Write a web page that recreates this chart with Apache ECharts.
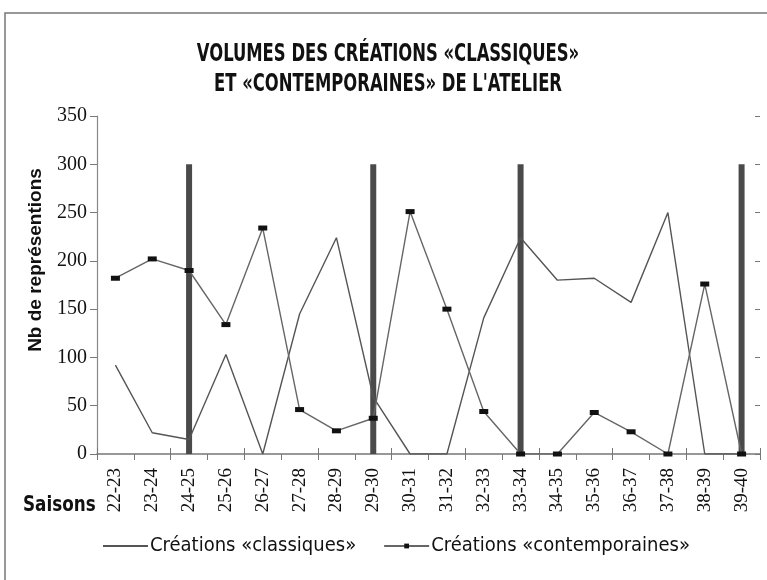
<!DOCTYPE html>
<html>
<head>
<meta charset="utf-8">
<script src="https://cdn.jsdelivr.net/npm/echarts@6/dist/echarts.min.js"></script>
<style>
  html, body { margin: 0; padding: 0; background: #fff; }
  #chart { width: 767px; height: 580px; }
</style>
</head>
<body>
<div id="chart"></div>
<script>
const saisons = ['22-23', '23-24', '24-25', '25-26', '26-27', '27-28', '28-29', '29-30', '30-31',
  '31-32', '32-33', '33-34', '34-35', '35-36', '36-37', '37-38', '38-39', '39-40']
const classiques = [92, 22, 15, 103, 0, 145, 224, 59, 0, 0, 141, 224, 180, 182, 157, 250, 0, 0]
const contemporaines = [182, 202, 190, 134, 234, 46, 24, 37, 251, 150, 44, 0, 0, 43, 23, 0, 176, 0]
// traits verticaux séparant les périodes
const separateurs = [null, null, 300, null, null, null, null, 300, null, null, null, 300, null, null, null, null, null, 300]
const yTicks = [0, 50, 100, 150, 200, 250, 300, 350]

const chart = echarts.init(document.getElementById('chart'))

const serif = '"Liberation Serif", "DejaVu Serif", serif'
const narrow = '"DejaVu Sans Condensed", "DejaVu Sans", sans-serif'

chart.setOption({
  animation: false,
  grid: { left: 97, right: 7, top: 116, bottom: 126 },
  graphic: [
    { type: 'rect', shape: { x: 5, y: 13, width: 820, height: 620 },
      style: { fill: 'none', stroke: '#777', lineWidth: 1.5 }, silent: true },
    { type: 'text', x: 388, y: 52, scaleX: 0.73,
      style: { text: 'VOLUMES DES CRÉATIONS «CLASSIQUES»\nET «CONTEMPORAINES» DE L\'ATELIER',
        font: 'bold 25px ' + narrow, fill: '#111', align: 'center', verticalAlign: 'top',
        lineHeight: 30, y: -13 } },
    { type: 'text', x: 23, y: 505, scaleX: 0.85,
      style: { text: 'Saisons', font: 'bold 22px ' + narrow, fill: '#111', verticalAlign: 'middle' } },
    { type: 'text', x: 36, y: 260, rotation: Math.PI / 2,
      style: { text: 'Nb de représentions', font: 'bold 19px "Liberation Sans", Arial, sans-serif',
        fill: '#111', align: 'center', verticalAlign: 'middle' } }
  ],
  legend: {
    bottom: 19,
    left: 97,
    itemGap: 27,
    itemWidth: 45,
    itemHeight: 6,
    data: [
      { name: 'Créations «classiques»', itemStyle: { opacity: 0 } },
      'Créations «contemporaines»'
    ],
    textStyle: { fontFamily: narrow, fontSize: 20, color: '#111', padding: [0, 0, 0, -3] }
  },
  xAxis: [{
    type: 'category',
    data: saisons,
    boundaryGap: true,
    axisLine: { lineStyle: { color: '#777', width: 1.5 } },
    axisTick: { show: true, length: 6, lineStyle: { color: '#777' } },
    axisLabel: { rotate: 90, margin: 14, fontFamily: serif, fontSize: 19, color: '#111' }
  }, {
    type: 'category',
    data: saisons,
    position: 'bottom',
    boundaryGap: true,
    axisLine: { show: false },
    axisTick: { show: true, inside: true, length: 6, lineStyle: { color: '#777' } },
    axisLabel: { show: false }
  }],
  yAxis: [{
    type: 'value',
    min: 0,
    max: 350,
    interval: 50,
    splitLine: { show: false },
    axisLine: { show: true, lineStyle: { color: '#888', width: 1.2 } },
    axisTick: { show: true, length: 7, lineStyle: { color: '#777' } },
    axisLabel: { margin: 10, fontFamily: serif, fontSize: 20, color: '#111',
      formatter: v => yTicks.includes(v) ? String(v) : '' }
  }, {
    type: 'value',
    min: 0,
    max: 350,
    interval: 50,
    splitLine: { show: false },
    axisLine: { show: false },
    axisTick: { show: true, inside: true, length: 5, lineStyle: { color: '#777' } },
    axisLabel: { show: false }
  }],
  series: [
    {
      name: 'séparateurs',
      type: 'bar',
      data: separateurs,
      barWidth: 6,
      z: 1,
      itemStyle: { color: '#4a4a4a' }
    },
    {
      name: 'Créations «classiques»',
      type: 'line',
      data: classiques,
      symbol: 'none',
      z: 3,
      lineStyle: { color: '#555', width: 1.4 },
      itemStyle: { color: '#555' }
    },
    {
      name: 'Créations «contemporaines»',
      type: 'line',
      data: contemporaines,
      symbol: 'rect',
      symbolSize: [9, 5],
      z: 4,
      lineStyle: { color: '#666', width: 1.4 },
      itemStyle: { color: '#111' }
    }
  ]
})
</script>
</body>
</html>
